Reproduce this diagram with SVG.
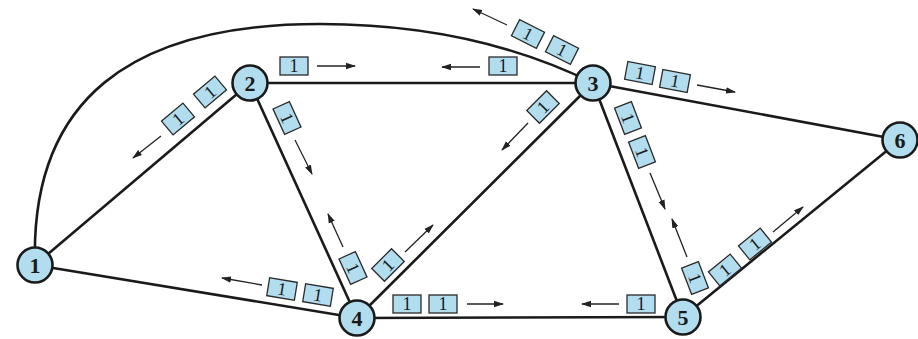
<svg xmlns="http://www.w3.org/2000/svg" xmlns:xlink="http://www.w3.org/1999/xlink" width="918" height="339" viewBox="0 0 918 339">
<style>
.edge{fill:none;stroke:#1a1a1a;stroke-width:2.6}
.arr{fill:none;stroke:#222;stroke-width:1.3;marker-end:url(#ah)}
.pk rect{fill:#b2ddef;stroke:#2a2a2a;stroke-width:1.3}
.pk text{font-family:"Liberation Serif",serif;font-size:18px;fill:#1a1a1a;text-anchor:middle}
.node circle{fill:#b2ddef;stroke:#1a1a1a;stroke-width:2.6}
.node text{font-family:"Liberation Serif",serif;font-size:22px;font-weight:bold;fill:#1a1a1a;text-anchor:middle}
</style>
<defs>
<marker id="ah" markerWidth="10" markerHeight="8" refX="9" refY="4" orient="auto" markerUnits="userSpaceOnUse">
<path d="M0,0.8 L10,4 L0,7.2 z" fill="#222"/>
</marker>
<g id="pkt" class="pk"><rect x="-14" y="-9" width="28" height="18"/><text y="6">1</text></g>
</defs>
<rect width="918" height="339" fill="#fff"/>
<g id="connectors">
<path class="edge" d="M35,265 C30,100 130,24 320,24 C420,24 510,42 593,83"/>
<line class="edge" x1="35" y1="265" x2="250" y2="83"/>
<line class="edge" x1="35" y1="265" x2="357" y2="318"/>
<line class="edge" x1="250" y1="83" x2="593" y2="83"/>
<line class="edge" x1="250" y1="83" x2="357" y2="318"/>
<line class="edge" x1="593" y1="83" x2="357" y2="318"/>
<line class="edge" x1="593" y1="83" x2="683" y2="317"/>
<line class="edge" x1="593" y1="83" x2="900" y2="140"/>
<line class="edge" x1="357" y1="318" x2="683" y2="317"/>
<line class="edge" x1="683" y1="317" x2="900" y2="140"/>
</g>
<g id="packets">
<use href="#pkt" transform="translate(210,92) rotate(-40)"/>
<use href="#pkt" transform="translate(178,119) rotate(-40)"/>
<use href="#pkt" transform="translate(294,66)"/>
<use href="#pkt" transform="translate(503,66)"/>
<use href="#pkt" transform="translate(528,34) rotate(27)"/>
<use href="#pkt" transform="translate(562,50) rotate(27)"/>
<use href="#pkt" transform="translate(543,107) rotate(-45)"/>
<use href="#pkt" transform="translate(388,265) rotate(-45)"/>
<use href="#pkt" transform="translate(287,118) rotate(65.5)"/>
<use href="#pkt" transform="translate(353,268) rotate(65.5)"/>
<use href="#pkt" transform="translate(318,295) rotate(9.3)"/>
<use href="#pkt" transform="translate(282,289) rotate(9.3)"/>
<use href="#pkt" transform="translate(407,304)"/>
<use href="#pkt" transform="translate(443,304)"/>
<use href="#pkt" transform="translate(641,304)"/>
<use href="#pkt" transform="translate(640,73) rotate(10.5)"/>
<use href="#pkt" transform="translate(675,81) rotate(10.5)"/>
<use href="#pkt" transform="translate(628,118) rotate(69)"/>
<use href="#pkt" transform="translate(642,152) rotate(69)"/>
<use href="#pkt" transform="translate(695,278) rotate(69)"/>
<use href="#pkt" transform="translate(725,270) rotate(-39)"/>
<use href="#pkt" transform="translate(755,244) rotate(-39)"/>
</g>
<g id="arrows">
<line class="arr" x1="161" y1="136" x2="133" y2="158"/>
<line class="arr" x1="317" y1="66" x2="355" y2="66"/>
<line class="arr" x1="480" y1="67" x2="442" y2="67"/>
<line class="arr" x1="507" y1="25" x2="473" y2="9"/>
<line class="arr" x1="528" y1="123" x2="502" y2="150"/>
<line class="arr" x1="405" y1="252" x2="433" y2="225"/>
<line class="arr" x1="295" y1="140" x2="312" y2="174"/>
<line class="arr" x1="343" y1="247" x2="328" y2="214"/>
<line class="arr" x1="262" y1="285" x2="222" y2="278"/>
<line class="arr" x1="467" y1="304" x2="503" y2="304"/>
<line class="arr" x1="619" y1="304" x2="582" y2="304"/>
<line class="arr" x1="697" y1="85" x2="735" y2="92"/>
<line class="arr" x1="650" y1="173" x2="665" y2="209"/>
<line class="arr" x1="687" y1="257" x2="672" y2="219"/>
<line class="arr" x1="773" y1="232" x2="803" y2="207"/>
</g>
<g id="node1" class="node"><circle cx="35" cy="265" r="17.5"/><text x="35" y="272.5">1</text></g>
<g id="node2" class="node"><circle cx="250" cy="83" r="17.5"/><text x="250" y="90.5">2</text></g>
<g id="node3" class="node"><circle cx="593" cy="83" r="17.5"/><text x="593" y="90.5">3</text></g>
<g id="node4" class="node"><circle cx="357" cy="318" r="17.5"/><text x="357" y="325.5">4</text></g>
<g id="node5" class="node"><circle cx="683" cy="317" r="17.5"/><text x="683" y="324.5">5</text></g>
<g id="node6" class="node"><circle cx="900" cy="140" r="17.5"/><text x="900" y="147.5">6</text></g>
</svg>
